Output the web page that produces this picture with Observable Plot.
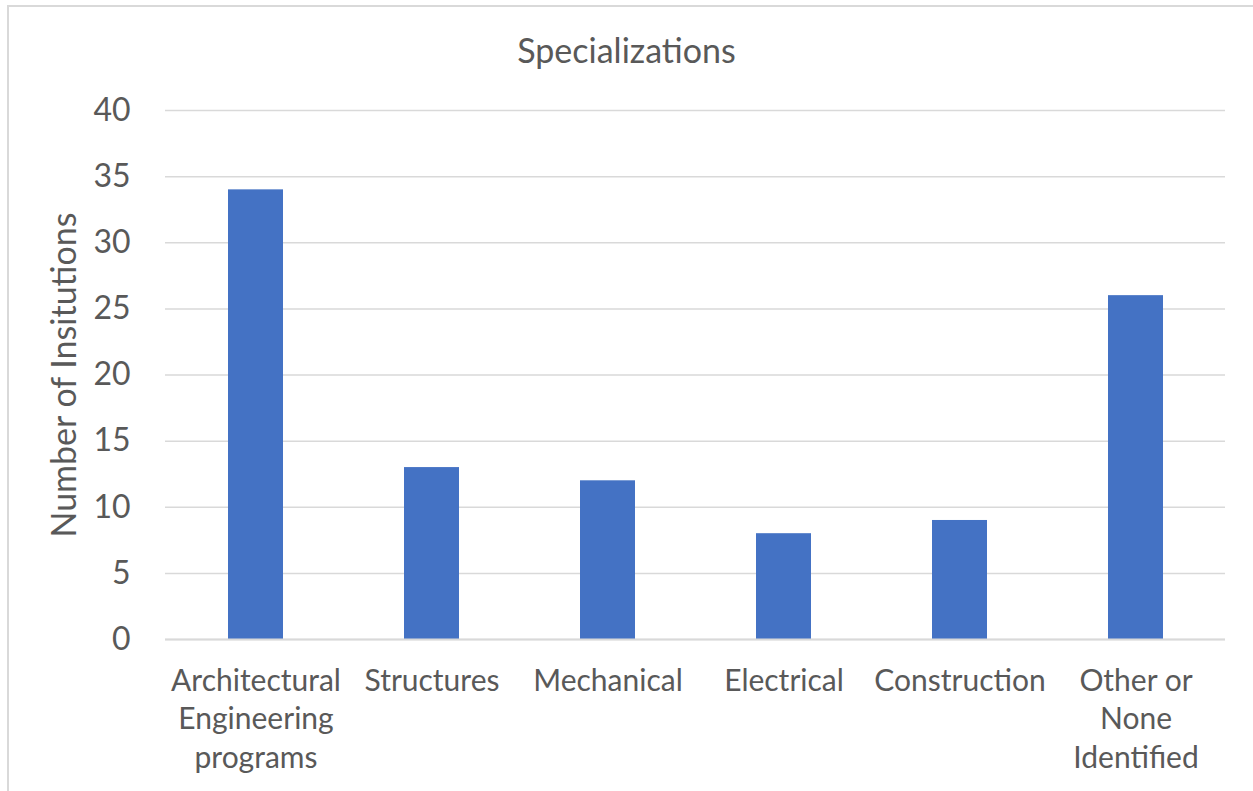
<!DOCTYPE html>
<html>
<head>
<meta charset="utf-8">
<script src="https://cdn.jsdelivr.net/npm/d3@7"></script>
<script src="https://cdn.jsdelivr.net/npm/@observablehq/plot@0.6"></script>
<style>
  html, body { margin: 0; padding: 0; background: #fff; }
  body { width: 1253px; height: 791px; overflow: hidden; position: relative; font-family: Lato, "Open Sans", sans-serif; }
  #frame { position: absolute; left: 7px; top: 5px; width: 1260px; height: 800px; border: 2px solid #d9d9d9; box-sizing: border-box; }
  #title { position: absolute; left: 0; top: 0; width: 1253px; height: 80px; text-align: center; font-size: 34px; line-height: 100px; color: #595959; }
  #chart { position: absolute; left: 0; top: 80px; }
  #chart svg { display: block; }
</style>
</head>
<body>
<div id="frame"></div>
<div id="title">Specializations</div>
<div id="chart"></div>
<script>
// Number of institutions offering each specialization
const categories = [
  "Architectural Engineering programs",
  "Structures",
  "Mechanical",
  "Electrical",
  "Construction",
  "Other or None Identified"
];
const counts = [34, 13, 12, 8, 9, 26];
const tickLabels = [
  "Architectural\nEngineering\nprograms",
  "Structures",
  "Mechanical",
  "Electrical",
  "Construction",
  "Other or\nNone\nIdentified"
];
const yTicks = [0, 5, 10, 15, 20, 25, 30, 35, 40];
const yTitle = "Number of Insitutions";

const data = categories.map((c, i) => ({category: c, count: counts[i]}));
const labelOf = new Map(categories.map((c, i) => [c, tickLabels[i]]));

const textColor = "#595959";
const gridColor = "#d9d9d9";

const chart = Plot.plot({
  width: 1253,
  height: 711,
  marginLeft: 165,
  marginRight: 28,
  marginTop: 30,
  marginBottom: 152,
  style: {fontFamily: "Lato, 'Open Sans', sans-serif", color: textColor, background: "transparent"},
  x: {domain: categories, paddingInner: 0.69, paddingOuter: 0.345, axis: null},
  y: {domain: [0, 40], axis: null},
  marks: [
    Plot.gridY(yTicks, {stroke: gridColor, strokeOpacity: 1, strokeWidth: 1.5}),
    Plot.barY(data, {x: "category", y: "count", fill: "#4472C4"}),
    Plot.ruleY([0], {stroke: gridColor, strokeWidth: 2}),
    Plot.axisY(yTicks, {
      tickSize: 0, tickPadding: 35, fontSize: 32, fill: textColor, label: null
    }),
    Plot.axisX({
      tickSize: 0, tickPadding: 24, fontSize: 30, fill: textColor, lineHeight: 1.28,
      tickFormat: (d) => labelOf.get(d), label: null
    }),
    Plot.text([yTitle], {
      frameAnchor: "left", dx: -100, rotate: -90, textAnchor: "middle", lineAnchor: "middle",
      fontSize: 34, fill: textColor
    })
  ]
});
document.getElementById("chart").appendChild(chart);
</script>
</body>
</html>
